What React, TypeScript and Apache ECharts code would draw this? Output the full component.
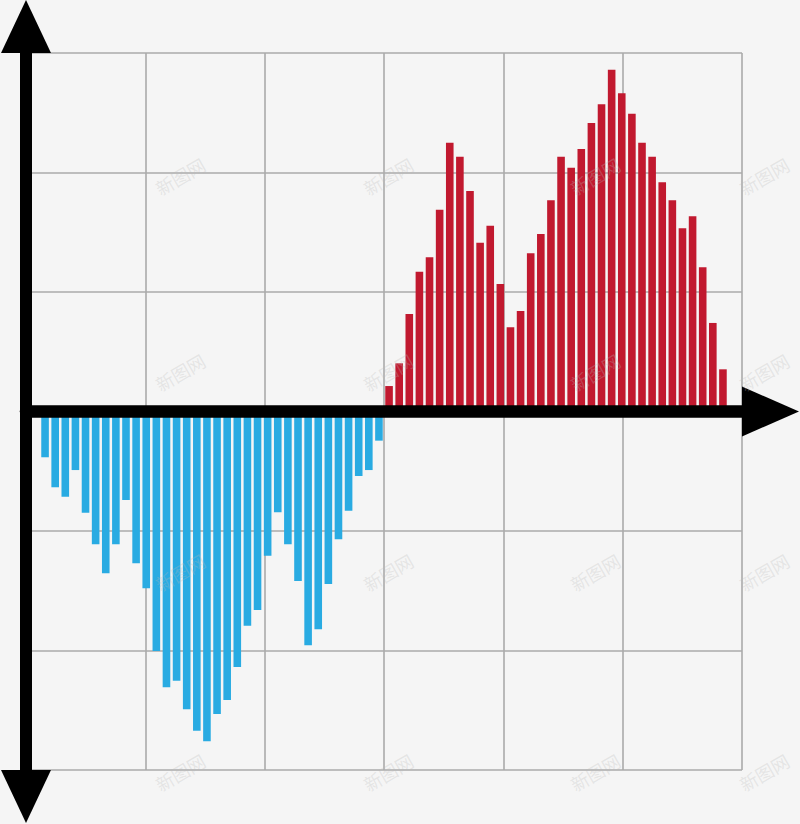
import React, { useEffect, useRef } from "react";
import * as echarts from "echarts";

// Values in hundredths of a grid cell (one grid cell = 100)
const blueValues = [
  -38.3, -63.4, -71.3, -49.0, -84.7, -111.1, -135.4, -111.1, -74.1, -127.0,
  -147.9, -200.4, -230.8, -225.3, -249.2, -267.1, -276.0, -253.1, -241.4, -213.8,
  -179.2, -166.1, -120.7, -84.4, -111.1, -141.8, -195.6, -182.2, -144.4, -106.9,
  -83.0, -54.0, -49.0, -24.4,
];
const redValues = [
  21.3, 40.3, 81.6, 117.0, 129.0, 168.9, 224.9, 213.2, 184.5, 141.3,
  155.5, 106.7, 70.5, 84.1, 132.4, 148.5, 176.7, 213.2, 204.0, 219.7,
  241.4, 257.1, 286.0, 266.3, 249.2, 224.9, 213.2, 191.8, 176.7, 153.3,
  163.3, 120.7, 74.1, 35.3,
];
const categories = [...blueValues, ...redValues].map((_, i) => String(i + 1));
const yMin = -300;
const yMax = 300;
const yStep = 100;
const xMin = 0;
const xMax = 6;
const watermarkText = "新图网";

const BLUE = "#29abe2";
const RED = "#c1192f";
const GRIDLINE = "#aaaaaa";
const BG = "#f5f5f5";

export default function App() {
  const ref = useRef<HTMLDivElement>(null);
  useEffect(() => {
    if (!ref.current) return;
    const chart = echarts.init(ref.current, undefined, { renderer: "svg" });
    const empty = redValues.map(() => "-");
    const blueData = [...blueValues, ...empty];
    const redData = [...empty, ...redValues];

    const wmX = [180, 388, 595, 764];
    const wmY = [176, 372, 572, 772];
    const watermarks: any[] = [];
    wmY.forEach((y) =>
      wmX.forEach((x) =>
        watermarks.push({
          type: "text",
          x,
          y,
          rotation: Math.PI / 6,
          silent: true,
          z: 100,
          style: {
            text: watermarkText,
            font: '18px "Noto Sans CJK SC"',
            fill: "rgba(185,185,185,0.28)",
            align: "center",
            verticalAlign: "middle",
            textAlign: "center",
            textVerticalAlign: "middle",
          },
        })
      )
    );

    const gridBox = { left: 26, right: 58, top: 53, bottom: 54 };
    const hidden = {
      axisLine: { show: false },
      axisTick: { show: false },
      axisLabel: { show: false },
    };

    chart.setOption({
      animation: false,
      backgroundColor: BG,
      grid: [
        { ...gridBox },
        { left: 40, right: 72, top: 53, bottom: 54 },
        { ...gridBox },
      ],
      xAxis: [
        {
          gridIndex: 0,
          type: "value",
          min: xMin,
          max: xMax,
          interval: 1,
          ...hidden,
          splitLine: { show: true, lineStyle: { color: GRIDLINE, width: 1.6 } },
          z: 0,
        },
        {
          gridIndex: 1,
          type: "category",
          data: categories,
          show: false,
        },
        {
          gridIndex: 2,
          type: "value",
          min: xMin,
          max: xMax,
          axisTick: { show: false },
          axisLabel: { show: false },
          splitLine: { show: false },
          axisLine: {
            show: true,
            onZero: true,
            symbol: ["none", "triangle"],
            symbolSize: [50, 57],
            symbolOffset: [0, 28.5],
            lineStyle: { color: "#000", width: 12.5 },
          },
          z: 10,
        },
      ],
      yAxis: [
        {
          gridIndex: 0,
          type: "value",
          min: yMin,
          max: yMax,
          interval: yStep,
          ...hidden,
          splitLine: { show: true, lineStyle: { color: GRIDLINE, width: 1.6 } },
          z: 0,
        },
        {
          gridIndex: 1,
          type: "value",
          min: yMin,
          max: yMax,
          show: false,
        },
        {
          gridIndex: 2,
          type: "value",
          min: yMin,
          max: yMax,
          axisTick: { show: false },
          axisLabel: { show: false },
          splitLine: { show: false },
          axisLine: {
            show: true,
            onZero: true,
            symbol: ["triangle", "triangle"],
            symbolSize: [50, 53],
            symbolOffset: [-26.5, 26.5],
            lineStyle: { color: "#000", width: 12 },
          },
          z: 10,
        },
      ],
      series: [
        {
          type: "bar",
          xAxisIndex: 1,
          yAxisIndex: 1,
          stack: "all",
          data: blueData,
          barWidth: 7.6,
          itemStyle: { color: BLUE },
        },
        {
          type: "bar",
          xAxisIndex: 1,
          yAxisIndex: 1,
          stack: "all",
          data: redData,
          barWidth: 7.6,
          itemStyle: { color: RED },
        },
      ],
      graphic: watermarks,
    });
    return () => chart.dispose();
  }, []);
  return (
    <div
      ref={ref}
      style={{ position: "absolute", left: 0, top: 0, width: 800, height: 824 }}
    />
  );
}
